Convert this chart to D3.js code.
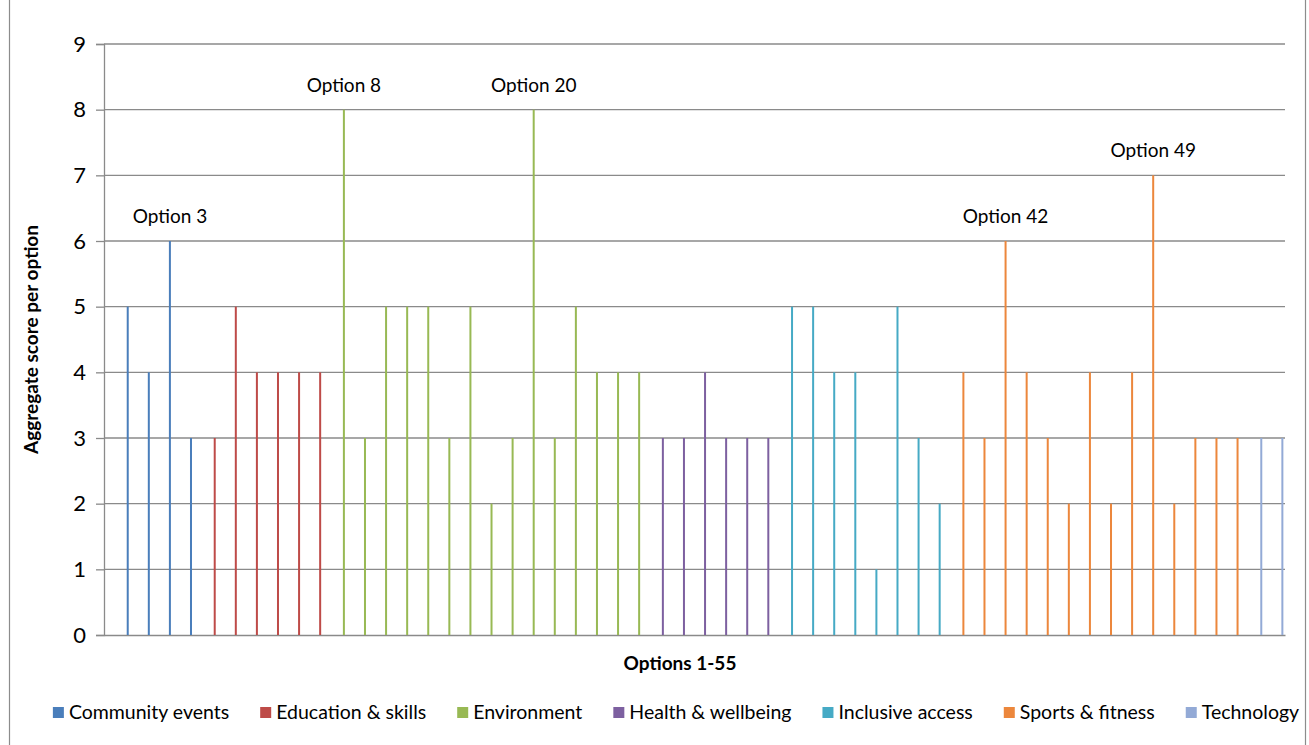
<!DOCTYPE html>
<html>
<head>
<meta charset="utf-8">
<script src="https://cdn.jsdelivr.net/npm/d3@7"></script>
<style>
  html, body { margin: 0; padding: 0; background: #fff; }
  svg { display: block; }
  text { font-family: Lato, "Open Sans", sans-serif; fill: #000; }
</style>
</head>
<body>
<svg id="chart" width="1309" height="745"></svg>
<script>
// ---- data ----
const seriesNames = ["Community events", "Education & skills", "Environment", "Health & wellbeing", "Inclusive access", "Sports & fitness", "Technology"];
const seriesColors = ["#4A7EBB", "#BE4B48", "#98B954", "#7D60A0", "#46AAC5", "#EC873C", "#93AAD6"];
// x categories: a leading empty slot, then options 1-55
const xCategories = ["", "1","2","3","4","5","6","7","8","9","10","11","12","13","14","15","16","17","18","19","20",
  "21","22","23","24","25","26","27","28","29","30","31","32","33","34","35","36","37","38","39","40",
  "41","42","43","44","45","46","47","48","49","50","51","52","53","54","55"];
// scores per series (options numbered consecutively from 1)
const communityScores   = [5, 4, 6, 3];
const educationScores   = [3, 5, 4, 4, 4, 4];
const environmentScores = [8, 3, 5, 5, 5, 3, 5, 2, 3, 8, 3, 5, 4, 4, 4];
const healthScores      = [3, 3, 4, 3, 3, 3];
const inclusiveScores   = [5, 5, 4, 4, 1, 5, 3, 2];
const sportsScores      = [4, 3, 6, 4, 3, 2, 4, 2, 4, 7, 2, 3, 3, 3];
const technologyScores  = [3, 3];
const yTicks = [0, 1, 2, 3, 4, 5, 6, 7, 8, 9];
const annotationOptions = ["3", "11", "20", "42", "49"];
const annotationTexts   = ["Option 3", "Option 8", "Option 20", "Option 42", "Option 49"];
const xTitle = "Options 1-55";
const yTitle = "Aggregate score per option";

(function () {
// ---- build table ----
const allScores = [communityScores, educationScores, environmentScores, healthScores, inclusiveScores, sportsScores, technologyScores];
const bars = [];
let optIdx = 1;
allScores.forEach((arr, si) => {
  arr.forEach(v => {
    bars.push({ option: xCategories[optIdx], series: seriesNames[si], value: v });
    optIdx++;
  });
});

// ---- layout ----
const svg = d3.select("#chart");
const mLeft = 104, mRight = 1285, mTop = 44, mBottom = 635;

const x = d3.scaleBand().domain(xCategories).range([mLeft, mRight]).paddingInner(0).paddingOuter(0);
const x1 = d3.scaleBand().domain(seriesNames).range([0, x.bandwidth()]).paddingInner(0).paddingOuter(0.5);
const y = d3.scaleLinear().domain([0, 9]).range([mBottom, mTop]);
const color = d3.scaleOrdinal().domain(seriesNames).range(seriesColors);

// chart area border
svg.append("rect").attr("x", 9.5).attr("y", -5).attr("width", 1296).attr("height", 760)
  .attr("fill", "none").attr("stroke", "#8c8c8c").attr("stroke-width", 1.2);

// gridlines
svg.append("g").selectAll("line").data(yTicks.filter(d => d > 0)).join("line")
  .attr("x1", mLeft).attr("x2", mRight)
  .attr("y1", d => y(d)).attr("y2", d => y(d))
  .attr("stroke", "#8a8a8a").attr("stroke-width", 1.3);

// y axis
const yAxis = d3.axisLeft(y).tickValues(yTicks).tickSize(8).tickPadding(10).tickFormat(d3.format("d"));
const gy = svg.append("g").attr("transform", `translate(${mLeft},0)`).call(yAxis);
gy.select(".domain").attr("stroke", "#8a8a8a").attr("stroke-width", 1.3);
gy.selectAll(".tick line").attr("stroke", "#8a8a8a").attr("stroke-width", 1.3);
gy.selectAll(".tick text").style("font-size", "22px").style("font-family", "Lato, sans-serif").attr("fill", "#000");

// x axis line
const xAxis = d3.axisBottom(x).tickSize(0).tickFormat("");
const gx = svg.append("g").attr("transform", `translate(0,${mBottom})`).call(xAxis);
gx.select(".domain").attr("stroke", "#8a8a8a").attr("stroke-width", 1.3);

// bars
const barW = 2;
svg.append("g").selectAll("rect").data(bars).join("rect")
  .attr("x", d => x(d.option) + x1(d.series) + x1.bandwidth() / 2 - barW / 2)
  .attr("width", barW)
  .attr("y", d => y(d.value))
  .attr("height", d => y(0) - y(d.value))
  .attr("fill", d => color(d.series));

// annotations
const annData = annotationOptions.map((o, i) => ({ bar: bars.find(b => b.option === o), text: annotationTexts[i] }));
svg.append("g").selectAll("text").data(annData).join("text")
  .attr("x", d => x(d.bar.option) + x1(d.bar.series) + x1.bandwidth() / 2)
  .attr("y", d => y(d.bar.value) - 18)
  .attr("text-anchor", "middle")
  .style("font-size", "19px")
  .text(d => d.text);

// axis titles
svg.append("text").attr("x", 680).attr("y", 670)
  .attr("text-anchor", "middle").style("font-size", "19px").style("font-weight", "bold").text(xTitle);
svg.append("text").attr("transform", `translate(38,${(mTop + mBottom) / 2}) rotate(-90)`)
  .attr("text-anchor", "middle").style("font-size", "19px").style("font-weight", "bold").text(yTitle);

// legend
const legend = svg.append("g");
const legendFont = 19.5;
const legendGap = 31;
let lx = 0;
const items = [];
seriesNames.forEach((name, i) => {
  const g = legend.append("g");
  g.append("rect").attr("x", 0).attr("y", -12).attr("width", 11).attr("height", 11).attr("fill", seriesColors[i]);
  const t = g.append("text").attr("x", 16).attr("y", 0).style("font-size", legendFont + "px").text(name);
  const w = t.node().getComputedTextLength();
  items.push({ g, w });
});
items.forEach(it => {
  it.g.attr("transform", `translate(${lx},0)`);
  lx += 16 + it.w + legendGap;
});
const totalW = lx - legendGap;
legend.attr("transform", `translate(${(52 + 1300) / 2 - totalW / 2},719)`);
})();
</script>
</body>
</html>
